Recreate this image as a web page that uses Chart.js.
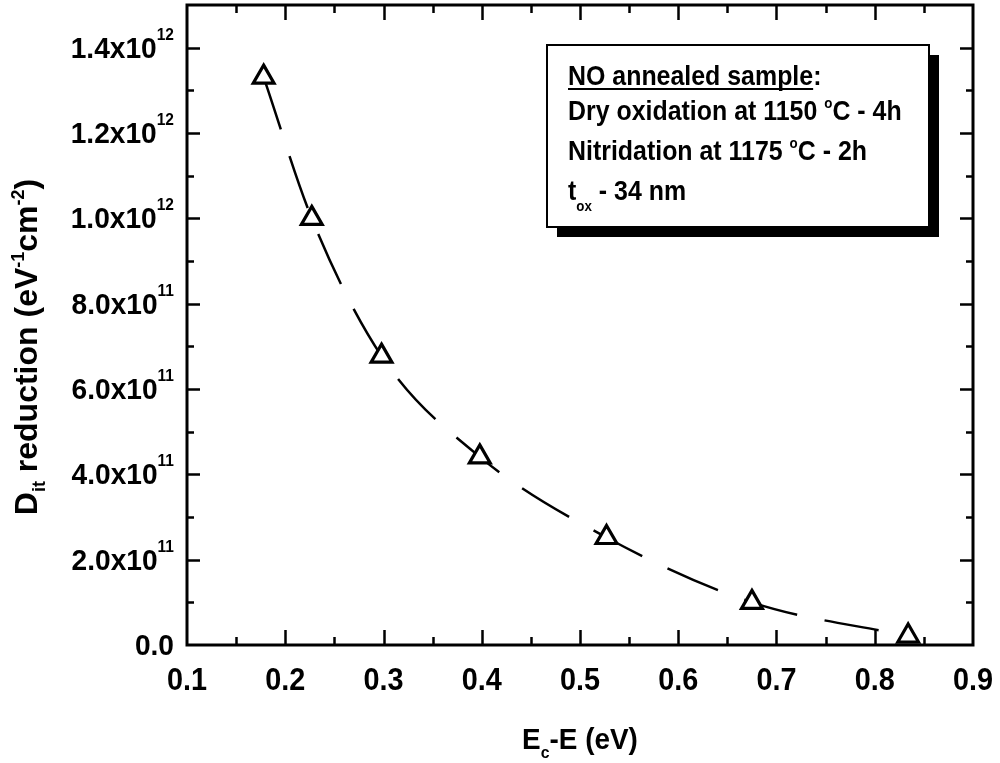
<!DOCTYPE html>
<html>
<head>
<meta charset="utf-8">
<script src="https://cdn.jsdelivr.net/npm/chart.js@4/dist/chart.umd.min.js"></script>
<style>
  html, body { margin: 0; padding: 0; background: #fff; }
  #wrap { width: 1000px; height: 763px; position: relative; }
</style>
</head>
<body>
<div id="wrap"><canvas id="ch-dit"></canvas></div>
<script>
// Penurunan Dit terhadap energi Ec-E, sampel anil NO.
const ENERGY = [0.178, 0.227, 0.298, 0.398, 0.527, 0.675, 0.834];
const DIT_REDUCTION = [1.331e12, 1.0e12, 0.677e12, 0.441e12, 0.252e12, 0.100e12, 0.021e12];
const X_TICKS = [0.1, 0.2, 0.3, 0.4, 0.5, 0.6, 0.7, 0.8, 0.9];
const Y_TICKS = [0, 2e11, 4e11, 6e11, 8e11, 1e12, 1.2e12, 1.4e12];
const NOTE_LINES = [
  [{ t: "NO annealed sample", u: true }, { t: ":" }],
  [{ t: "Dry oxidation at 1150 " }, { t: "o", sup: true, dy: -12 }, { t: "C - 4h" }],
  [{ t: "Nitridation at 1175 " }, { t: "o", sup: true, dy: -12 }, { t: "C - 2h" }],
  [{ t: "t" }, { t: "ox", sub: true, dy: 11 }, { t: " - 34 nm" }]
];

(function () {
  const FONT = '"Liberation Sans", Arial, Helvetica, sans-serif';

  function isMajor(v, step) {
    const q = v / step;
    return Math.abs(q - Math.round(q)) < 1e-6;
  }

  // runs of text: normal, superscript, subscript, underlined
  function partFont(p, size) {
    const s = p.sup || p.sub ? Math.round(size * 0.55) : size;
    return "bold " + s + "px " + FONT;
  }
  function runsWidth(ctx, parts, size) {
    return parts.reduce((w, p) => { ctx.font = partFont(p, size); return w + ctx.measureText(p.t).width; }, 0);
  }
  function drawRuns(ctx, parts, x, y, size, opts) {
    opts = opts || {};
    const sx = opts.sx || 1;
    const w = runsWidth(ctx, parts, size) * sx;
    const x0 = opts.align === "right" ? x - w : opts.align === "center" ? x - w / 2 : x;
    ctx.save();
    ctx.translate(x0, y);
    if (opts.rot) ctx.rotate(opts.rot);
    ctx.scale(sx, 1);
    ctx.fillStyle = "#000";
    ctx.textBaseline = "alphabetic";
    let cx = 0;
    parts.forEach((p) => {
      ctx.font = partFont(p, size);
      const dy = p.dy != null ? p.dy : p.sup ? -size * 0.45 : p.sub ? size * 0.28 : 0;
      ctx.fillText(p.t, cx, dy);
      const pw = ctx.measureText(p.t).width;
      if (p.u) ctx.fillRect(cx, 3, pw, 2);
      cx += pw;
    });
    ctx.restore();
  }

  function yLabel(v) {
    if (v === 0) return [{ t: "0.0" }];
    const e = Math.floor(Math.log10(v) + 1e-9);
    const m = v / Math.pow(10, e);
    return [{ t: m.toFixed(1) + "x10" }, { t: String(e), sup: true, dy: -18 }];
  }

  const framePlugin = {
    id: "frame",
    afterDatasetsDraw(chart) {
      const ctx = chart.ctx;
      const { left, right, top, bottom } = chart.chartArea;
      const xs = chart.scales.x, ys = chart.scales.y;
      ctx.save();
      ctx.strokeStyle = "#000";
      ctx.lineCap = "butt";

      // minor + major ticks pointing inward on all four sides
      ctx.lineWidth = 2.5;
      ctx.beginPath();
      xs.ticks.forEach((t) => {
        if (t.value <= xs.min + 1e-9 || t.value >= xs.max - 1e-9) return;
        const px = Math.round(xs.getPixelForValue(t.value)) + 0.5;
        const len = isMajor(t.value, 0.1) ? 15 : 8;
        ctx.moveTo(px, bottom); ctx.lineTo(px, bottom - len);
        ctx.moveTo(px, top); ctx.lineTo(px, top + len);
      });
      ys.ticks.forEach((t) => {
        if (t.value <= ys.min || t.value >= ys.max) return;
        const py = Math.round(ys.getPixelForValue(t.value)) + 0.5;
        const len = isMajor(t.value, 2e11) ? 13 : 7;
        ctx.moveTo(left, py); ctx.lineTo(left + len, py);
        ctx.moveTo(right, py); ctx.lineTo(right - len, py);
      });
      ctx.stroke();

      ctx.lineWidth = 3;
      ctx.strokeRect(left, top, right - left, bottom - top);

      // tick labels
      X_TICKS.forEach((v) => {
        drawRuns(ctx, [{ t: v.toFixed(1) }], xs.getPixelForValue(v), bottom + 45, 31, { align: "center", sx: 0.93 });
      });
      Y_TICKS.forEach((v) => {
        drawRuns(ctx, yLabel(v), left - 13, ys.getPixelForValue(v) + 10, 29, { align: "right", sx: 0.97 });
      });

      // axis titles
      drawRuns(ctx, [{ t: "E" }, { t: "c", sub: true, dy: 9 }, { t: "-E (eV)" }], (left + right) / 2, 749, 30, { align: "center", sx: 0.93 });
      const yt = [{ t: "D" }, { t: "it", sub: true, dy: 8 }, { t: " reduction (eV" }, { t: "-1", sup: true, dy: -13 }, { t: "cm" }, { t: "-2", sup: true, dy: -13 }, { t: ")" }];
      const ytw = runsWidth(ctx, yt, 32);
      drawRuns(ctx, yt, 37, (top + bottom) / 2 + 22 + ytw / 2, 32, { rot: -Math.PI / 2 });

      // note box with drop shadow
      const bx = 547, by = 45, bw = 382, bh = 182;
      ctx.fillStyle = "#000";
      ctx.fillRect(bx + 10, by + 10, bw, bh);
      ctx.fillStyle = "#fff";
      ctx.fillRect(bx, by, bw, bh);
      ctx.lineWidth = 2;
      ctx.strokeRect(bx, by, bw, bh);
      const base = [85, 120, 160, 200];
      NOTE_LINES.forEach((line, i) => drawRuns(ctx, line, 568, base[i], 28, { sx: 0.89 }));
      ctx.restore();
    }
  };

  new Chart(document.getElementById("ch-dit"), {
    type: "line",
    data: {
      datasets: [{
        data: ENERGY.map((x, i) => ({ x: x, y: DIT_REDUCTION[i] })),
        borderColor: "#000",
        borderWidth: 2.5,
        borderDash: [55, 28],
        cubicInterpolationMode: "monotone",
        fill: false,
        pointStyle: "triangle",
        pointRadius: 12,
        pointBorderWidth: 3.2,
        pointBorderColor: "#000",
        pointBackgroundColor: "#fff"
      }]
    },
    options: {
      responsive: true,
      maintainAspectRatio: false,
      animation: false,
      layout: { autoPadding: false, padding: { left: 187, right: 27, top: 5, bottom: 118 } },
      plugins: { legend: { display: false }, tooltip: { enabled: false } },
      scales: {
        x: { type: "linear", min: 0.1, max: 0.9, display: false, ticks: { stepSize: 0.05 } },
        y: { type: "linear", min: 0, max: 1.5e12, display: false, ticks: { stepSize: 1e11 } }
      }
    },
    plugins: [framePlugin]
  });
})();
</script>
</body>
</html>
